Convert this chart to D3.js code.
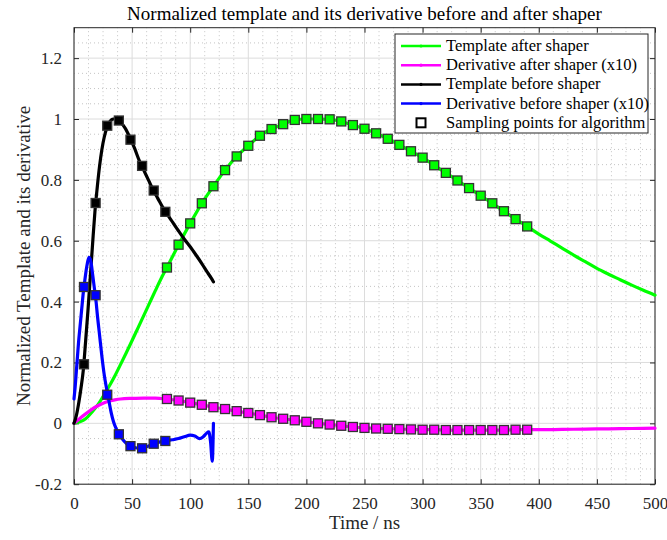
<!DOCTYPE html>
<html>
<head>
<meta charset="utf-8">
<script src="https://cdn.jsdelivr.net/npm/d3@7"></script>
<style>
  body { margin: 0; background: #fff; }
  svg text { font-family: "Liberation Serif", serif !important; }
</style>
</head>
<body>
<svg id="chart" width="667" height="540"></svg>
<script>
// template after shaper (green), time in ns
var greenT = [0, 5, 10, 15, 20, 25, 30, 35, 40, 45, 50, 55, 60, 65, 70, 75,
  80, 90, 100, 110, 120, 130, 140, 150, 160, 170, 180, 190, 200, 210, 220, 230,
  240, 250, 260, 270, 280, 290, 300, 310, 320, 330, 340, 350, 360, 370, 380, 390,
  400, 410, 420, 430, 440, 450, 460, 470, 480, 490, 500];
var greenV = [0, 0.005, 0.015, 0.035, 0.058, 0.088, 0.12, 0.155, 0.193, 0.232, 0.272, 0.313, 0.354, 0.395, 0.436, 0.476,
  0.512, 0.587, 0.657, 0.723, 0.779, 0.832, 0.877, 0.912, 0.945, 0.967, 0.983, 0.997, 1.0, 1.0, 0.999, 0.992,
  0.98, 0.968, 0.953, 0.935, 0.915, 0.894, 0.873, 0.848, 0.823, 0.798, 0.773, 0.748, 0.723, 0.697, 0.671, 0.647,
  0.622, 0.599, 0.576, 0.553, 0.531, 0.509, 0.49, 0.472, 0.454, 0.437, 0.421];

// derivative after shaper x10 (magenta)
var magT = [0, 5, 10, 15, 20, 25, 30, 35, 40, 50, 60, 70,
  80, 90, 100, 110, 120, 130, 140, 150, 160, 170, 180, 190, 200, 210, 220, 230,
  240, 250, 260, 270, 280, 290, 300, 310, 320, 330, 340, 350, 360, 370, 380, 390,
  400, 420, 440, 460, 480, 500];
var magV = [0, 0.016, 0.031, 0.045, 0.057, 0.066, 0.073, 0.077, 0.08, 0.082, 0.083, 0.083,
  0.08, 0.075, 0.068, 0.061, 0.053, 0.047, 0.04, 0.034, 0.027, 0.02, 0.015, 0.01, 0.005, 0, -0.004, -0.008,
  -0.012, -0.015, -0.017, -0.018, -0.019, -0.02, -0.021, -0.021, -0.022, -0.022, -0.022, -0.022, -0.022, -0.022, -0.021, -0.021,
  -0.021, -0.02, -0.019, -0.018, -0.017, -0.016];

// template before shaper (black)
var blackT = [0, 2, 4, 6, 8, 10, 12, 14, 16, 18, 20, 22, 24, 26, 28, 30, 32, 34, 36, 38, 40,
  44, 48, 52, 56, 60, 64, 68, 72, 76, 80, 85, 90, 95, 100, 105, 110, 115, 118, 120];
var blackV = [0, 0.025, 0.065, 0.115, 0.175, 0.27, 0.37, 0.48, 0.59, 0.695, 0.775, 0.845, 0.9, 0.94, 0.968, 0.986, 0.997, 1.0, 1.0, 0.996, 0.99,
  0.97, 0.94, 0.905, 0.865, 0.832, 0.8, 0.767, 0.74, 0.712, 0.688, 0.66, 0.632, 0.605, 0.58, 0.553, 0.525, 0.495, 0.478, 0.465];

// derivative before shaper x10 (blue)
var blueT = [0, 1, 2, 3, 4, 5, 6, 7, 8, 9, 10, 11, 12, 13, 14, 15, 16, 17, 18, 19, 20,
  22, 24, 26, 28, 30, 32, 34, 36, 38, 40, 42, 44, 46, 48, 50, 54, 58, 62, 66, 70, 74, 78,
  82, 86, 90, 95, 100, 104, 108, 111, 114, 116, 117.5, 119, 120];
var blueV = [0.08, 0.12, 0.17, 0.22, 0.27, 0.31, 0.35, 0.39, 0.43, 0.46, 0.49, 0.515, 0.535, 0.545, 0.54, 0.52, 0.49, 0.46, 0.43, 0.4, 0.36,
  0.29, 0.22, 0.16, 0.115, 0.075, 0.035, 0.005, -0.015, -0.03, -0.042, -0.053, -0.062, -0.069, -0.074, -0.077, -0.081, -0.082, -0.078, -0.071, -0.065, -0.061, -0.058,
  -0.056, -0.053, -0.05, -0.044, -0.039, -0.042, -0.05, -0.045, -0.033, -0.028, -0.06, -0.124, 0.0];

// sampling points before shaper
var sampleT = [8.6, 18.6, 28.6, 38.6, 48.6, 58.6, 68.6, 78.6];
var sampleBlack = [0.194, 0.724, 0.978, 0.995, 0.932, 0.846, 0.765, 0.695];
var sampleBlue = [0.448, 0.421, 0.094, -0.036, -0.075, -0.082, -0.067, -0.058];

var xTicks = d3.range(0, 501, 50);
var yTicks = [-0.2, 0, 0.2, 0.4, 0.6, 0.8, 1, 1.2];

var legendLabels = ["Template after shaper", "Derivative after shaper (x10)",
  "Template before shaper", "Derivative before shaper (x10)", "Sampling points for algorithm"];

var FONT = '"Liberation Serif", serif';
var svg = d3.select("#chart").attr("font-family", FONT);
var x = d3.scaleLinear().domain([0, 500]).range([74, 655]);
var y = d3.scaleLinear().domain([-0.2, 1.3]).range([484.2, 27.7]);

var x0 = x.range()[0], x1 = x.range()[1], y0 = y.range()[0], y1 = y.range()[1];

// grid
var xMinor = d3.range(0, 500, 12.5).filter(function(d) { return d % 50 !== 0; });
var yMinor = d3.range(-0.2, 1.3, 0.05).filter(function(d) { return Math.abs(Math.round(d * 5) - d * 5) > 1e-6; });
var grid = svg.append("g");
grid.selectAll(".xm").data(xMinor).enter().append("line")
  .attr("x1", d => x(d)).attr("x2", d => x(d)).attr("y1", y0).attr("y2", y1)
  .attr("stroke", "#c4c4c4").attr("stroke-width", 1).attr("stroke-dasharray", "1,3");
grid.selectAll(".ym").data(yMinor).enter().append("line")
  .attr("y1", d => y(d)).attr("y2", d => y(d)).attr("x1", x0).attr("x2", x1)
  .attr("stroke", "#c4c4c4").attr("stroke-width", 1).attr("stroke-dasharray", "1,3");
grid.selectAll(".xg").data(xTicks).enter().append("line")
  .attr("x1", d => x(d)).attr("x2", d => x(d)).attr("y1", y0).attr("y2", y1)
  .attr("stroke", "#dcdcdc").attr("stroke-width", 1);
grid.selectAll(".yg").data(d3.range(-0.2, 1.31, 0.2)).enter().append("line")
  .attr("y1", d => y(d)).attr("y2", d => y(d)).attr("x1", x0).attr("x2", x1)
  .attr("stroke", "#dcdcdc").attr("stroke-width", 1);

// axes, ticks inward
function styleAxis(g) {
  g.attr("font-family", FONT).attr("font-size", 17);
  g.select(".domain").remove();
  g.selectAll(".tick line").attr("stroke", "#262626");
  g.selectAll(".tick text").attr("fill", "#262626");
}
svg.append("g").attr("transform", "translate(0," + y0 + ")")
  .call(d3.axisBottom(x).tickValues(xTicks).tickSizeInner(-5).tickSizeOuter(0).tickPadding(13))
  .call(styleAxis);
svg.append("g").attr("transform", "translate(0," + y1 + ")")
  .call(d3.axisTop(x).tickValues(xTicks).tickSizeInner(-5).tickSizeOuter(0).tickFormat(""))
  .call(styleAxis);
svg.append("g").attr("transform", "translate(" + x0 + ",0)")
  .call(d3.axisLeft(y).tickValues(yTicks).tickSizeInner(-5).tickSizeOuter(0).tickPadding(12)
    .tickFormat(d => String(+d.toFixed(1))))
  .call(styleAxis);
svg.append("g").attr("transform", "translate(" + x1 + ",0)")
  .call(d3.axisRight(y).tickValues(yTicks).tickSizeInner(-5).tickSizeOuter(0).tickFormat(""))
  .call(styleAxis);

svg.append("rect").attr("x", x0).attr("y", y1).attr("width", x1 - x0).attr("height", y0 - y1)
  .attr("fill", "none").attr("stroke", "#262626").attr("stroke-width", 1);

// curves
var line = d3.line().x(d => x(d[0])).y(d => y(d[1])).curve(d3.curveMonotoneX);
function zip(a, b) { return a.map(function(t, i) { return [t, b[i]]; }); }

var plotG = svg.append("g");
function drawSeries(T, V, color, markers, markerFill) {
  plotG.append("path").datum(zip(T, V)).attr("d", line)
    .attr("fill", "none").attr("stroke", color).attr("stroke-width", 3.2)
    .attr("stroke-linejoin", "round").attr("stroke-linecap", "round");
  plotG.selectAll(null).data(markers).enter().append("rect")
    .attr("x", d => x(d[0]) - 4.5).attr("y", d => y(d[1]) - 4.5)
    .attr("width", 9).attr("height", 9)
    .attr("fill", markerFill).attr("stroke", "#333").attr("stroke-width", 1.3);
}
var inSampling = function(d) { return d[0] >= 80 && d[0] <= 390; };
drawSeries(greenT, greenV, "#00ff00", zip(greenT, greenV).filter(inSampling), "#00ff00");
drawSeries(magT, magV, "#ff00ff", zip(magT, magV).filter(inSampling), "#ff00ff");
drawSeries(blackT, blackV, "#000000", zip(sampleT, sampleBlack), "#000000");
drawSeries(blueT, blueV, "#0000ff", zip(sampleT, sampleBlue), "#0000ff");

// title and labels
svg.append("text").attr("x", (x0 + x1) / 2).attr("y", 20).attr("text-anchor", "middle")
  .attr("font-size", 19).attr("fill", "#000").text("Normalized template and its derivative before and after shaper");
svg.append("text").attr("x", (x0 + x1) / 2).attr("y", 529).attr("text-anchor", "middle")
  .attr("font-size", 19).attr("fill", "#262626").text("Time / ns");
svg.append("text").attr("transform", "translate(30," + ((y0 + y1) / 2) + ") rotate(-90)")
  .attr("text-anchor", "middle").attr("font-size", 19).attr("fill", "#262626")
  .text("Normalized Template and its derivative");

// legend
var legColors = ["#00ff00", "#ff00ff", "#000000", "#0000ff"];
var leg = svg.append("g");
leg.append("rect").attr("x", 395).attr("y", 34).attr("width", 253).attr("height", 99)
  .attr("fill", "#fff").attr("stroke", "#262626").attr("stroke-width", 1);
var rowY = function(i) { return 46 + i * 19.2; };
leg.selectAll(".ll").data(legColors).enter().append("line")
  .attr("x1", 401).attr("x2", 441).attr("y1", (d, i) => rowY(i)).attr("y2", (d, i) => rowY(i))
  .attr("stroke", d => d).attr("stroke-width", 2.5);
leg.selectAll(".ld").data(legColors).enter().append("circle")
  .attr("cx", 421).attr("cy", (d, i) => rowY(i)).attr("r", 1.6).attr("fill", d => d);
leg.append("rect").attr("x", 416.5).attr("y", rowY(4) - 4.5).attr("width", 9).attr("height", 9)
  .attr("fill", "#fff").attr("stroke", "#000").attr("stroke-width", 2);
leg.selectAll(".lt").data(legendLabels).enter().append("text")
  .attr("x", 446).attr("y", (d, i) => rowY(i) + 5).attr("font-size", 16.5)
  .attr("fill", "#000").text(d => d);
</script>
</body>
</html>
